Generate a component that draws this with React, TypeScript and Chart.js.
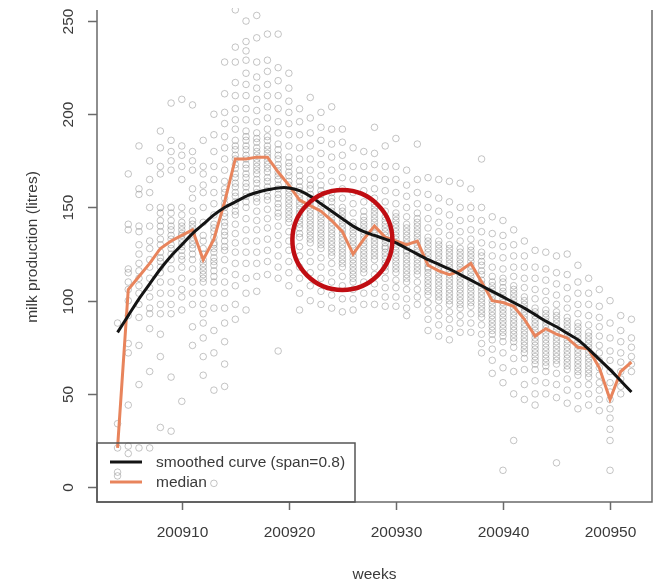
import { useEffect, useRef } from 'react';
import { Chart, registerables } from 'chart.js';

Chart.register(...registerables);

// ---- data ----
const weeks = [
  200904, 200905, 200906, 200907, 200908, 200909, 200910, 200911, 200912, 200913,
  200914, 200915, 200916, 200917, 200918, 200919, 200920, 200921, 200922, 200923,
  200924, 200925, 200926, 200927, 200928, 200929, 200930, 200931, 200932, 200933,
  200934, 200935, 200936, 200937, 200938, 200939, 200940, 200941, 200942, 200943,
  200944, 200945, 200946, 200947, 200948, 200949, 200950, 200951, 200952,
];

// observed milk production per cow, one list per week (same order as weeks)
const observations: number[][] = [
  [88, 34, 21, 8, 6],
  [168, 141, 138, 117, 115, 110, 106, 100, 92, 77, 72, 44, 22, 18],
  [183, 160, 157, 140, 137, 130, 125, 120, 116, 112, 108, 104, 98, 91, 76, 55, 21],
  [175, 165, 158, 150, 140, 132, 128, 122, 118, 112, 107, 102, 96, 93, 85, 62, 21],
  [191, 182, 172, 168, 150, 147, 143, 137, 130, 126, 121, 115, 110, 104, 98, 93, 82, 70, 32, 140, 133, 123, 118],
  [206, 186, 180, 175, 170, 150, 147, 143, 138, 133, 128, 122, 117, 110, 104, 98, 93, 59, 30, 140, 135, 130, 125],
  [208, 183, 178, 172, 165, 150, 146, 142, 138, 135, 131, 127, 122, 118, 112, 106, 102, 95, 46, 140, 136, 133, 129, 124],
  [205, 180, 175, 170, 160, 155, 148, 143, 139, 136, 132, 128, 122, 117, 110, 104, 98, 86, 76, 141, 137, 134, 130, 125],
  [186, 172, 168, 162, 158, 150, 142, 135, 128, 122, 118, 114, 110, 104, 98, 93, 88, 80, 70, 60, 132, 125, 120, 116, 112],
  [200, 189, 180, 172, 165, 158, 152, 146, 141, 137, 134, 130, 126, 121, 116, 110, 104, 96, 84, 72, 52, 2, 139, 131, 128, 123, 119, 113],
  [228, 211, 201, 195, 188, 182, 176, 170, 164, 158, 152, 147, 142, 137, 132, 127, 122, 116, 110, 104, 96, 88, 78, 66, 54, 160, 155, 150, 145, 140, 135, 129],
  [256, 236, 228, 217, 210, 203, 197, 192, 186, 181, 176, 171, 166, 161, 156, 151, 146, 141, 136, 131, 126, 120, 114, 108, 98, 90, 183, 178, 173, 168, 163, 158, 153, 148],
  [250, 239, 234, 229, 222, 216, 210, 203, 197, 191, 186, 181, 176, 171, 166, 161, 156, 150, 144, 138, 132, 126, 120, 112, 104, 95, 188, 183, 178, 173, 168, 163, 158, 153],
  [253, 241, 228, 220, 214, 208, 202, 196, 190, 185, 180, 176, 172, 168, 163, 158, 153, 148, 143, 138, 132, 126, 120, 113, 105, 187, 182, 178, 174, 170, 165, 160, 155],
  [243, 229, 223, 216, 210, 204, 198, 192, 186, 181, 177, 173, 169, 164, 159, 154, 149, 144, 139, 133, 127, 121, 114, 188, 183, 179, 175, 171, 166, 161, 156],
  [243, 225, 218, 210, 203, 196, 190, 184, 178, 173, 169, 165, 160, 155, 150, 145, 140, 135, 130, 124, 118, 112, 73, 181, 176, 171, 167, 162, 157, 152, 147],
  [222, 214, 207, 201, 195, 189, 183, 177, 172, 167, 162, 158, 154, 150, 146, 142, 137, 132, 127, 121, 115, 108, 174, 169, 164, 160, 156, 152, 148, 144],
  [203, 196, 189, 182, 176, 170, 164, 159, 155, 151, 147, 143, 139, 134, 129, 124, 118, 112, 104, 95, 167, 161, 157, 153, 149, 145, 141, 136],
  [209, 198, 190, 183, 176, 170, 165, 160, 155, 151, 147, 143, 139, 135, 131, 126, 121, 115, 108, 100, 162, 157, 153, 149, 145, 141, 137, 133],
  [201, 193, 186, 179, 173, 167, 162, 157, 152, 148, 144, 140, 136, 132, 128, 123, 118, 112, 105, 98, 159, 154, 150, 146, 142, 138, 134, 130],
  [204, 192, 184, 177, 170, 164, 158, 153, 148, 144, 140, 136, 132, 128, 124, 120, 115, 110, 103, 96, 155, 150, 146, 142, 138, 134, 130, 126],
  [192, 185, 178, 172, 166, 160, 155, 150, 146, 142, 138, 134, 130, 126, 122, 118, 113, 108, 101, 94, 148, 144, 140, 136, 132, 128, 124, 120],
  [182, 172, 165, 158, 152, 147, 142, 138, 134, 130, 126, 122, 118, 114, 110, 106, 101, 95, 140, 136, 132, 128, 124, 120, 116, 112],
  [180, 172, 165, 159, 153, 148, 143, 139, 135, 131, 127, 123, 119, 115, 110, 104, 98, 145, 141, 137, 133, 129, 125, 121, 117],
  [193, 179, 173, 166, 160, 155, 150, 146, 142, 138, 134, 130, 126, 122, 118, 114, 109, 104, 98, 152, 148, 144, 140, 136, 132, 128, 124],
  [183, 172, 165, 159, 153, 148, 143, 139, 135, 131, 128, 124, 120, 116, 112, 107, 102, 97, 145, 141, 137, 133, 129, 126, 122, 118],
  [187, 172, 165, 158, 152, 147, 143, 139, 135, 131, 127, 123, 119, 115, 111, 107, 102, 97, 145, 141, 137, 133, 129, 125, 121, 117],
  [170, 162, 156, 150, 145, 141, 137, 133, 129, 126, 122, 118, 114, 110, 106, 101, 96, 92, 139, 135, 131, 127, 124, 120, 116, 112],
  [184, 165, 158, 152, 147, 142, 138, 134, 130, 126, 122, 118, 114, 110, 106, 102, 98, 144, 140, 136, 132, 128, 124, 120, 116],
  [166, 157, 150, 144, 139, 134, 130, 126, 122, 118, 115, 111, 107, 103, 99, 95, 90, 84, 132, 128, 124, 120, 117, 113, 109, 105],
  [165, 155, 148, 142, 137, 132, 128, 124, 120, 116, 112, 108, 104, 100, 96, 92, 87, 81, 130, 126, 122, 118, 114, 110, 106, 102],
  [164, 153, 146, 140, 135, 130, 126, 122, 118, 114, 110, 106, 102, 98, 94, 90, 85, 79, 128, 124, 120, 116, 112, 108, 104, 100],
  [163, 150, 143, 137, 132, 128, 124, 120, 116, 112, 108, 104, 100, 96, 92, 88, 83, 126, 122, 118, 114, 110, 106, 102, 98],
  [160, 150, 144, 138, 133, 129, 125, 121, 117, 113, 109, 105, 101, 97, 93, 88, 83, 127, 123, 119, 115, 111, 107, 103, 99],
  [176, 150, 143, 137, 131, 126, 121, 116, 111, 107, 103, 99, 95, 91, 87, 82, 77, 72, 124, 119, 114, 109, 105, 101, 97, 93],
  [145, 136, 130, 124, 118, 113, 108, 104, 100, 96, 92, 88, 84, 79, 74, 68, 61, 110, 106, 102, 98, 94, 90, 86, 82],
  [143, 135, 129, 123, 117, 112, 107, 103, 99, 95, 91, 87, 83, 78, 72, 64, 56, 9, 110, 105, 101, 97, 93, 89, 85, 81],
  [138, 130, 124, 118, 113, 108, 104, 100, 96, 92, 88, 84, 80, 75, 69, 62, 50, 25, 106, 102, 98, 94, 90, 86, 82, 78],
  [132, 124, 118, 112, 107, 102, 98, 94, 90, 86, 82, 78, 74, 69, 63, 55, 47, 100, 96, 92, 88, 84, 80, 76, 72],
  [127, 118, 112, 106, 101, 96, 92, 88, 84, 80, 76, 72, 68, 63, 57, 50, 44, 94, 90, 86, 82, 78, 74, 70, 66],
  [126, 117, 111, 105, 100, 95, 91, 87, 83, 79, 75, 71, 67, 62, 56, 50, 93, 89, 85, 81, 77, 73, 69, 65],
  [124, 115, 109, 103, 98, 94, 90, 86, 82, 78, 74, 70, 66, 61, 55, 48, 13, 92, 88, 84, 80, 76, 72, 68],
  [125, 114, 107, 101, 96, 91, 87, 83, 79, 75, 71, 67, 63, 58, 52, 45, 89, 85, 81, 77, 73, 69, 65],
  [119, 110, 104, 98, 93, 88, 84, 80, 76, 72, 68, 64, 60, 55, 49, 42, 86, 82, 78, 74, 70, 66, 62],
  [112, 104, 98, 92, 87, 83, 79, 75, 71, 67, 63, 59, 55, 50, 44, 81, 77, 73, 69, 65, 61],
  [106, 97, 91, 86, 81, 76, 72, 68, 64, 60, 56, 52, 47, 41],
  [100, 88, 80, 73, 68, 62, 56, 51, 47, 42, 37, 31, 25, 9],
  [92, 84, 78, 72, 67, 62, 58, 54, 50],
  [90, 80, 75, 70, 66, 62],
];

const medianValues = [
  21, 106, 113, 120, 128, 132, 135, 138, 122, 133,
  153, 176, 176, 177, 177, 169, 162, 154, 151, 148,
  143, 137, 125, 133, 140, 134, 132, 130, 132, 119,
  116, 114, 116, 120, 110, 100, 99, 97, 90, 81,
  85, 82, 80, 75, 74, 64, 47, 62, 67,
];

const smoothedValues = [
  83, 92, 101, 109, 117, 124, 130, 136, 141, 146,
  150, 153, 156, 158, 159.5, 160.5, 160.5, 159, 156, 152,
  148, 144, 140, 137, 135, 133, 131, 128, 125, 122,
  119.5, 117, 114, 111, 108, 105, 102, 99, 96, 92.5,
  89, 86, 82.5, 79, 74, 68.5, 63, 57, 51,
];

const xTickValues = [200910, 200920, 200930, 200940, 200950];
const yTickValues = [0, 50, 100, 150, 200, 250];
const legendLabels = ['smoothed curve (span=0.8)', 'median'];
const xTitle = 'weeks';
const yTitle = 'milk production (litres)';
const highlightWeek = 200925;
const highlightValue = 132.5;

// ---- styles ----
const FONT = '15.5px "Liberation Sans", Arial, sans-serif';
const TEXT = '#3a3a3a';
const AXIS = '#6a6a6a';
const ORANGE = '#e8845c';
const BLACK = '#141414';
const GREY = 'rgba(140,140,140,0.5)';
const RED = '#c00d12';

const rPlot = {
  id: 'rPlot',
  afterDatasetsDraw(chart: any) {
    const { ctx, chartArea: a, scales } = chart;
    const x = scales.x;
    const y = scales.y;
    ctx.save();

    // highlight circle
    ctx.strokeStyle = RED;
    ctx.lineWidth = 4.5;
    ctx.beginPath();
    ctx.arc(x.getPixelForValue(highlightWeek), y.getPixelForValue(highlightValue), 50, 0, Math.PI * 2);
    ctx.stroke();

    // box (top edge cropped in the original)
    ctx.strokeStyle = AXIS;
    ctx.lineWidth = 1.5;
    ctx.beginPath();
    ctx.moveTo(a.left, a.top + 2);
    ctx.lineTo(a.left, a.bottom);
    ctx.lineTo(a.right, a.bottom);
    ctx.lineTo(a.right, a.top + 2);
    ctx.stroke();

    ctx.font = FONT;
    ctx.fillStyle = TEXT;

    // x ticks
    ctx.textAlign = 'center';
    ctx.textBaseline = 'middle';
    for (const t of xTickValues) {
      const px = Math.round(x.getPixelForValue(t)) + 0.5;
      ctx.beginPath();
      ctx.moveTo(px, a.bottom);
      ctx.lineTo(px, a.bottom + 8);
      ctx.stroke();
      ctx.fillText(String(t), px, a.bottom + 31);
    }

    // y ticks (rotated labels as in R)
    for (const t of yTickValues) {
      const py = Math.round(y.getPixelForValue(t)) + 0.5;
      ctx.beginPath();
      ctx.moveTo(a.left - 9, py);
      ctx.lineTo(a.left, py);
      ctx.stroke();
      ctx.save();
      ctx.translate(a.left - 28, py);
      ctx.rotate(-Math.PI / 2);
      ctx.fillText(String(t), 0, 0);
      ctx.restore();
    }

    // axis titles
    ctx.fillText(xTitle, (a.left + a.right) / 2, a.bottom + 73);
    ctx.save();
    ctx.translate(33, (a.top + a.bottom) / 2 - 8);
    ctx.rotate(-Math.PI / 2);
    ctx.fillText(yTitle, 0, 0);
    ctx.restore();

    // legend (transparent background, bottom-left)
    const lx = a.left;
    const lw = 258;
    const lh = 59;
    const ly = a.bottom - lh;
    ctx.strokeStyle = '#555';
    ctx.lineWidth = 1.5;
    ctx.strokeRect(lx, ly, lw, lh);
    const colors = [BLACK, ORANGE];
    legendLabels.forEach((lab, i) => {
      const yy = ly + 19 + i * 20;
      ctx.strokeStyle = colors[i];
      ctx.lineWidth = 3;
      ctx.beginPath();
      ctx.moveTo(lx + 13, yy);
      ctx.lineTo(lx + 45, yy);
      ctx.stroke();
      ctx.textAlign = 'left';
      ctx.fillStyle = TEXT;
      ctx.fillText(lab, lx + 59, yy + 1);
    });

    ctx.restore();
  },
};

export default function App() {
  const ref = useRef<HTMLCanvasElement | null>(null);

  useEffect(() => {
    if (!ref.current) return;
    const points: { x: number; y: number }[] = [];
    weeks.forEach((w, i) => observations[i].forEach((v) => points.push({ x: w, y: v })));

    const chart = new Chart(ref.current, {
      type: 'scatter',
      data: {
        datasets: [
          {
            label: legendLabels[0],
            data: weeks.map((w, i) => ({ x: w, y: smoothedValues[i] })),
            showLine: true,
            borderColor: BLACK,
            borderWidth: 3,
            pointRadius: 0,
            tension: 0.3,
            order: 0,
          },
          {
            label: legendLabels[1],
            data: weeks.map((w, i) => ({ x: w, y: medianValues[i] })),
            showLine: true,
            borderColor: ORANGE,
            borderWidth: 3,
            pointRadius: 0,
            order: 1,
          },
          {
            label: 'observations',
            data: points,
            pointStyle: 'circle',
            pointRadius: 3.3,
            pointBorderWidth: 1,
            pointBorderColor: GREY,
            pointBackgroundColor: 'rgba(0,0,0,0)',
            borderColor: GREY,
            backgroundColor: 'rgba(0,0,0,0)',
            order: 2,
          },
        ],
      },
      options: {
        responsive: false,
        animation: false,
        layout: { padding: { left: 97, right: 4, top: 8, bottom: 79 } },
        plugins: { legend: { display: false }, tooltip: { enabled: false } },
        scales: {
          x: { type: 'linear', min: 200902.08, max: 200953.92, display: false },
          y: { type: 'linear', min: -8, max: 257, display: false },
        },
      },
      plugins: [rPlot],
    });
    return () => chart.destroy();
  }, []);

  return (
    <div style={{ position: 'absolute', left: 0, top: 0, width: 657, height: 581, background: '#fff' }}>
      <canvas ref={ref} width={657} height={581} style={{ display: 'block' }} />
    </div>
  );
}
